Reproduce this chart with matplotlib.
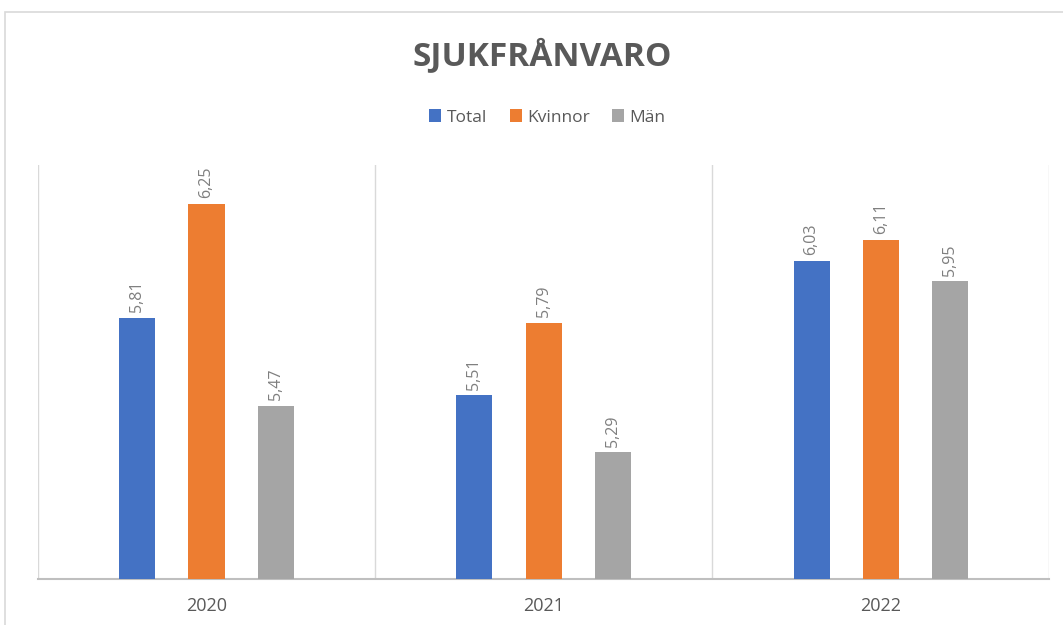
import numpy as np
import matplotlib.pyplot as plt
from matplotlib.patches import Rectangle

years = ['2020', '2021', '2022']
series = ['Total', 'Kvinnor', 'Män']
total = [5.81, 5.51, 6.03]
kvinnor = [6.25, 5.79, 6.11]
man = [5.47, 5.29, 5.95]
colors = ['#4472C4', '#ED7D31', '#A5A5A5']

plt.rcParams['font.family'] = ['Open Sans', 'DejaVu Sans']

fig = plt.figure(figsize=(10.63, 6.25), dpi=100)
ax = fig.add_axes([0.0357, 0.0736, 0.9513, 0.6624])

# chart frame
fig.patches.append(Rectangle((5 / 1063, -0.1), 1.2, 1 - 12 / 625 + 0.1,
                             transform=fig.transFigure, fill=False,
                             edgecolor='#D9D9D9', linewidth=1.2))

x = np.arange(len(years))
offset = 0.205
width = 0.107
for i, (name, vals) in enumerate(zip(series, [total, kvinnor, man])):
    pos = x + (i - 1) * offset
    bars = ax.bar(pos, vals, width=width, color=colors[i], label=name, zorder=3)
    for b, v in zip(bars, vals):
        ax.annotate(f'{v:.2f}'.replace('.', ','),
                    (b.get_x() + b.get_width() / 2, v),
                    xytext=(0, 4), textcoords='offset points',
                    rotation=90, ha='center', va='bottom',
                    fontsize=11.5, color='#7F7F7F')

ax.set_xlim(-0.5, 2.5)
ax.set_ylim(4.8, 6.4)
ax.set_yticks([])
ax.set_xticks(x)
ax.set_xticklabels(years, fontsize=13, color='#595959')
ax.tick_params(axis='x', length=0, pad=13)

# category separators
for s in [-0.5, 0.5, 1.5, 2.5]:
    ax.axvline(s, color='#D9D9D9', linewidth=1, zorder=1)

for sp in ['top', 'right', 'left']:
    ax.spines[sp].set_visible(False)
ax.spines['bottom'].set_color('#BFBFBF')
ax.spines['bottom'].set_linewidth(1.5)

fig.text(0.510, 0.910, 'SJUKFRÅNVARO', ha='center', va='center',
         fontsize=24, fontweight='bold', color='#595959')

fig.legend(loc='center', bbox_to_anchor=(0.515, 0.812), ncol=3, frameon=False,
           fontsize=12.5, handlelength=0.7, handleheight=0.7, handletextpad=0.3,
           columnspacing=1.3, labelcolor='#595959')

plt.savefig('out.png', dpi=100)
